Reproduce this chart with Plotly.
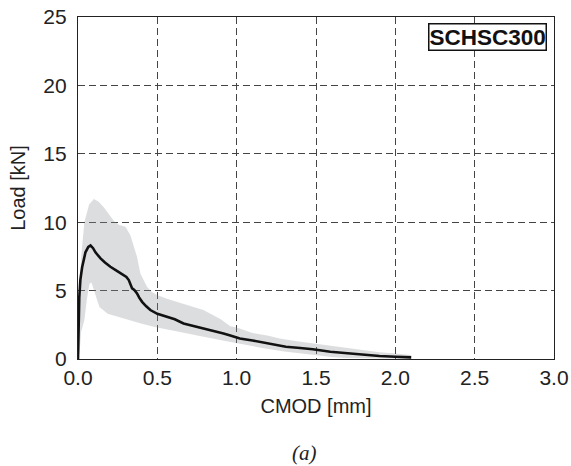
import plotly.graph_objects as go

# Mean curve (CMOD [mm], Load [kN])
mean_x = [0, 0.003, 0.008, 0.015, 0.026, 0.047, 0.065, 0.079, 0.095, 0.11, 0.142, 0.17, 0.204, 0.25,
          0.288, 0.305, 0.32, 0.33, 0.341, 0.355, 0.372, 0.385, 0.404, 0.43, 0.456, 0.5, 0.561, 0.61,
          0.665, 0.72, 0.79, 0.85, 0.917, 0.96, 1.02, 1.1, 1.17, 1.24, 1.31, 1.4, 1.48, 1.59, 1.68,
          1.76, 1.9, 2.0, 2.1]
mean_y = [0, 2.5, 4.5, 5.8, 6.7, 7.8, 8.2, 8.3, 8.1, 7.8, 7.35, 7.05, 6.74, 6.4,
          6.13, 6.0, 5.77, 5.4, 5.16, 5.05, 4.8, 4.5, 4.18, 3.85, 3.58, 3.3, 3.09, 2.9,
          2.6, 2.45, 2.24, 2.05, 1.87, 1.72, 1.5, 1.35, 1.19, 1.05, 0.9, 0.8, 0.71, 0.53, 0.43,
          0.34, 0.22, 0.16, 0.12]

# Envelope (upper and lower)
upper_x = [0, 0.005, 0.02, 0.04, 0.07, 0.1, 0.13, 0.162, 0.2, 0.225, 0.26, 0.299, 0.33, 0.35,
           0.372, 0.393, 0.415, 0.435, 0.465, 0.498, 0.56, 0.624, 0.7, 0.79, 0.9, 0.96, 1.0,
           1.1, 1.2, 1.27, 1.38, 1.48, 1.6, 1.7, 1.8, 1.9, 2.0, 2.1]
upper_y = [0, 3.0, 7.5, 10.0, 11.3, 11.7, 11.5, 11.1, 10.5, 10.1, 9.8, 9.66, 9.05, 8.3,
           7.47, 6.25, 5.7, 5.28, 4.9, 4.67, 4.4, 4.18, 3.9, 3.58, 2.9, 2.4, 2.3,
           1.9, 1.7, 1.5, 1.3, 1.14, 0.95, 0.8, 0.66, 0.5, 0.4, 0.3]
lower_x = [0, 0.01, 0.02, 0.04, 0.055, 0.072, 0.085, 0.104, 0.135, 0.187, 0.29, 0.397, 0.477,
           0.58, 0.687, 0.8, 0.896, 0.96, 1.05, 1.17, 1.3, 1.48, 1.6, 1.69, 1.8, 2.1]
lower_y = [0, 0.5, 2.0, 2.85, 4.3, 5.5, 5.6, 5.0, 3.8, 3.3, 2.96, 2.6, 2.36,
           2.1, 1.87, 1.6, 1.39, 1.3, 1.05, 0.78, 0.55, 0.29, 0.15, 0.08, 0.03, 0.0]

x_ticks = [0.0, 0.5, 1.0, 1.5, 2.0, 2.5, 3.0]
x_ticktext = ["0.0", "0.5", "1.0", "1.5", "2.0", "2.5", "3.0"]
y_ticks = [0, 5, 10, 15, 20, 25]
y_ticktext = ["0", "5", "10", "15", "20", "25"]

font_family = "Liberation Sans, Arial, sans-serif"

fig = go.Figure()
fig.add_trace(go.Scatter(
    x=upper_x + lower_x[::-1], y=upper_y + lower_y[::-1],
    fill="toself", fillcolor="rgba(140,143,150,0.30)",
    line=dict(width=0), mode="lines", hoverinfo="skip", showlegend=False))
fig.add_trace(go.Scatter(
    x=mean_x, y=mean_y, mode="lines",
    line=dict(color="#111111", width=2.6), showlegend=False))

axis_common = dict(
    showline=True, linecolor="#222222", linewidth=1.2, mirror=True,
    showgrid=True, gridcolor="#444444", gridwidth=1, griddash="7px,4px",
    zeroline=False, ticks="", tickfont=dict(family=font_family, size=21, color="#222222"),
)

fig.update_xaxes(range=[0, 3.0], tickvals=x_ticks, ticktext=x_ticktext,
                 title=dict(text="CMOD [mm]", font=dict(family=font_family, size=20, color="#222222"), standoff=10),
                 **axis_common)
fig.update_yaxes(range=[0, 25], tickvals=y_ticks, ticktext=y_ticktext, ticklabelstandoff=6,
                 title=dict(text="Load [kN]", font=dict(family=font_family, size=20, color="#222222"), standoff=12),
                 **axis_common)

fig.add_annotation(
    xref="paper", yref="paper", x=0.986, y=0.982, xanchor="right", yanchor="top",
    text="<b>SCHSC300</b>", showarrow=False,
    font=dict(family=font_family, size=22.5, color="#111111"),
    bordercolor="#111111", borderwidth=1.5, borderpad=0, bgcolor="white")

fig.add_annotation(
    xref="paper", yref="paper", x=(304 - 77.5) / 477, y=-(453 - 359) / 342.5,
    xanchor="center", yanchor="middle", text="<i>(a)</i>", showarrow=False,
    font=dict(family="Liberation Serif, Times New Roman, serif", size=21, color="#222222"))

fig.update_layout(
    width=571, height=466,
    margin=dict(l=77.5, r=16.5, t=16.5, b=107, autoexpand=False),
    paper_bgcolor="white", plot_bgcolor="white",
)

fig.write_html("out.html")
